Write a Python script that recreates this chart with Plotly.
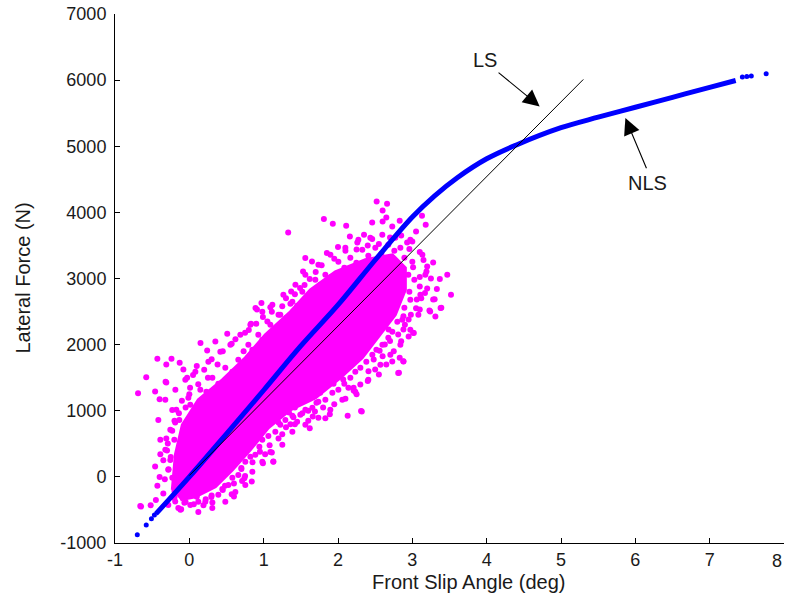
import plotly.graph_objects as go

# ---------------- data ----------------
# measured data points (visible individual dots of the cloud)
meas_x = [1.33, 1.37, 2.52, 2.66, 2.60, 1.81, 1.93, 2.11, 2.46, 2.60, 2.65, 2.73, 2.83, 3.13, 3.18, 3.05,
          2.16, 2.35, 2.26, 2.46, 2.93, 2.96, 2.00, 1.85, 1.56, 1.65, 3.28, 3.37, 3.47, 3.19, 3.10, 3.33,
          3.01, 1.49, 1.53, 1.62, 3.10, 3.17, 3.52, 3.31, 3.24, 3.38, 3.30, 3.02, 2.95, 2.81, 2.88, 2.73,
          2.31, 2.13, 1.89, 1.83, 1.62, 1.13, 0.84, 0.74, 0.60, -0.12, -0.19, -0.65, -0.69, -0.58, -0.43,
          -0.24, -0.13, -0.40, -0.46, -0.31, 0.15, 0.35, 0.51, 0.89, 0.97, 1.09, -0.31, -0.32, 0.24, 0.57,
          0.73, 0.83, 0.90, 0.91, 1.11, 1.25, 1.36, 0.99, 0.75, -0.08, -0.03, 0.01, 0.10, 3.39, 3.23, 3.10,
          3.06, 3.28, 3.01, 2.88, 2.81, 2.83, 2.88, 2.82, 2.60, 2.50, 2.48, 2.41, 2.70, 2.68, 2.95, 2.88,
          2.30, 2.21, 2.14, 2.21, 2.07, 1.94, 1.76, 1.71, 1.58, 1.47, 2.56, 2.63, 2.32, 1.69, 1.66, 1.60,
          1.52, 1.45, 1.42, 1.42, -0.66, -0.52, -0.43, -0.46, -0.39, -0.29, -0.31, -0.23, -0.19, -0.14,
          -0.23, -0.33, -0.28, -0.20, -0.11, 0.06, 0.22, 0.19, 0.31, 0.57, 0.48, 0.71, 0.75, 0.99, 1.13,
          1.02, 1.11, 1.25, 1.20, 1.34, 1.36, 1.15,
          0.30, 0.45, 0.62, 0.20, 0.05, 0.38, 0.80, 1.05, 1.20, 1.30, 1.42, 1.55, 1.70, 1.78, 1.95, 2.10,
          2.25, 2.40, 2.55, 2.70, 2.85, 3.00, 3.10, 3.15, 3.20, 3.25, 3.20, 3.12, 3.05, 2.98, 2.90, 2.85,
          2.75, 2.65, 2.55, 2.40, 2.25, 2.10, 1.95, 1.80, 1.60, 1.40, 1.30, 1.20, 1.08, 0.95, 0.85, 0.70,
          0.60, 0.45, 0.30, 0.10, -0.05, -0.20, -0.35, -0.45, -0.40, -0.35, -0.30, -0.25, -0.20, -0.10,
          0.00, 0.12, 0.25, -0.05,
          -0.283, -0.323, -0.256, -0.175, -0.013, 0.148, 0.310, 0.484, 0.659, 0.794, 0.928, 1.090, 1.224,
          1.386, 1.520, 1.695, 1.830, 2.005, 2.166, 2.327, 2.502, 2.677, 2.839, 3.000, 3.027, 2.973, 2.865,
          2.731, 2.597, 2.462, 2.301, 2.166, 2.005, 1.830, 1.655, 1.493, 1.292, 1.157, 0.982, 0.888, 0.753,
          0.659, 0.525, 0.390, 0.215, 0.013, -0.148, -0.283,
          -0.229, -0.256, -0.202, -0.135, 0.013, 0.229, 0.390, 0.579, 0.727, 0.848, 0.982, 1.157, 1.305,
          1.453, 1.601, 1.763, 1.911, 2.085, 2.247, 2.408, 2.583, 2.758, 2.893, 2.946, 2.960, 2.893, 2.798,
          2.677, 2.516, 2.381, 2.233, 2.085, 1.924, 1.736, 1.561, 1.386, 1.224, 1.063, 0.942, 0.821, 0.700,
          0.579, 0.444, 0.296, 0.121, -0.067, -0.202,
          -0.390, -0.417, -0.323, -0.188, -0.054, 0.081, 0.256, 0.417, 0.552, 0.686, 0.821, 0.982, 1.117,
          1.265, 1.427, 1.561, 1.736, 1.898, 2.099, 2.274, 2.435, 2.596, 2.771, 2.973, 3.135, 3.175, 3.108,
          3.081, 2.973, 2.839, 2.704, 2.570, 2.408, 2.233, 2.058, 1.897, 1.736, 1.561, 1.386, 1.251, 1.090,
          0.982, 0.848, 0.753, 0.619, 0.484, 0.309, 0.121]
meas_y = [3696, 2803, 4165, 4130, 4029, 3898, 3827, 3797, 3847, 3862, 3923, 3787, 3873, 3949, 3812, 3711,
          3635, 3661, 3545, 3596, 3545, 3445, 3475, 3384, 3309, 3258, 3242, 2991, 3056, 3107, 3021, 2840,
          3172, 2855, 3106, 2991, 2879, 2779, 2753, 2425, 2501, 2552, 2688, 2174, 2123, 1569, 1744, 1744,
          998, 923, 948, 888, 737, 231, -71, -20, -298, -499, -373, -449, 1266, 1508, 1785,
          1785, 1725, 1175, 1291, 1427, 2023, 2047, 2163, 2552, 2628, 2567, 1699, 1437, 1911, 2012,
          1901, 2315, 2315, 2531, 2496, 2582, 2617, 2416, 2179, 1624, 1498, 1346, 1675, 2557, 2516, 2531,
          2682, 2682, 2179, 2229, 2153, 1800, 1750, 1573, 1825, 1624, 1775, 1599, 2053, 2229, 2380, 2431,
          1397, 1346, 1346, 1306, 1472, 1407, 1271, 1120, 1195, 1372, 1906, 2002, 988, 988, 912, 847,
          963, 832, 797, 1049, -439, -428, -136, 156, 343, 504, 579, 696, 822, 963,
          1013, -35, 116, -212, -489, -413, -338, -428, -388, -262, -136, -61, 15, 207, 227,
          343, 368, 646, 822, 973, 797, 973,
          1780, 1900, 2080, 1620, 1540, 1700, 2220, 2350, 2450, 2700, 2760, 2900, 3100, 3200, 3300, 3420,
          3440, 3500, 3520, 3620, 3650, 3560, 3400, 3280, 3180, 3000, 2850, 2700, 2550, 2450, 2300, 2050,
          1900, 1700, 1550, 1450, 1250, 1180, 1100, 1050, 1000, 900, 750, 580, 480, 380, 220, 120,
          -100, -200, -280, -300, -380, -300, -250, -350, 0, 250, 400, 300, 850, 1150,
          1250, 1400, 1500, 1050,
          106, 409, 711, 1014, 1195, 1316, 1498, 1649, 1770, 1997, 2148, 2300, 2451,
          2648, 2799, 2981, 3056, 3253, 3314, 3435, 3465, 3510, 3465, 3253, 2981, 2678, 2375,
          2194, 1997, 1846, 1649, 1498, 1316, 1165, 1044, 938, 862, 681, 560, 333, 227,
          30, -121, -272, -378, -424, -469, -424,
          -15, 257, 560, 862, 1089, 1286, 1407, 1589, 1725, 1922, 2073, 2224, 2406,
          2587, 2739, 2905, 3026, 3162, 3238, 3344, 3374, 3419, 3314, 3056, 2799, 2557, 2345,
          2103, 1922, 1740, 1589, 1407, 1271, 1135, 1014, 923, 787, 620, 454, 303, 136,
          -15, -182, -303, -378, -393, -318,
          560, 862, 1165, 1316, 1468, 1589, 1740, 1891, 1997, 2148, 2300, 2496, 2602,
          2754, 2905, 3056, 3208, 3359, 3465, 3586, 3616, 3661, 3616, 3586, 3359, 3056, 2754,
          2451, 2224, 1997, 1846, 1695, 1468, 1286, 1165, 1014, 893, 787, 681, 484, 378,
          227, 76, -121, -227, -378, -469, -530]

# outline of the saturated core of the data cloud
core_x = [-0.229, -0.188, -0.094, 0.121, 0.444, 0.753, 1.022, 1.359, 1.628, 1.964, 2.368, 2.731,
          2.906, 2.906, 2.771, 2.570, 2.327, 2.031, 1.695, 1.359, 1.063, 0.821, 0.579, 0.350, 0.081, -0.121]
core_y = [-197, 333, 787, 1165, 1468, 1800, 2148, 2496, 2829, 3102, 3283, 3359,
          3162, 2829, 2451, 2148, 1800, 1498, 1195, 1014, 741, 409, 106, -151, -303, -348]

# nonlinear least squares fit (blue), continuous part
nls_x = [-0.45, 0.0, 0.5, 1.0, 1.5, 2.0, 2.5, 3.0, 3.3, 3.6, 4.0, 4.4, 5.0, 5.5, 6.0, 6.5, 7.0, 7.35]
nls_y = [-560, 0, 650, 1310, 1980, 2600, 3280, 3930, 4250, 4520, 4810, 5020, 5280, 5440, 5590, 5740, 5890, 5995]
# isolated blue points at both ends of the fit
nls_dot_x = [-0.70, -0.58, -0.51, -0.47, 7.44, 7.50, 7.56, 7.76]
nls_dot_y = [-877, -726, -635, -575, 6047, 6055, 6062, 6097]

# linear least squares fit (black)
ls_x = [0.0, 5.30]
ls_y = [20, 6010]

x_ticks = [-1, 0, 1, 2, 3, 4, 5, 6, 7]
x_labels = ["-1", "0", "1", "2", "3", "4", "5", "6", "7"]
y_ticks = [-1000, 0, 1000, 2000, 3000, 4000, 5000, 6000, 7000]
y_labels = ["-1000", "0", "1000", "2000", "3000", "4000", "5000", "6000", "7000"]

MAG = "#FF00FF"
BLUE = "#0000FF"
FONT = "Liberation Sans, Arial, sans-serif"
TXT = "#1a1a1a"

fig = go.Figure()
fig.add_trace(go.Scatter(x=core_x, y=core_y, mode="lines", fill="toself",
                         fillcolor=MAG, line=dict(color=MAG, width=3),
                         hoverinfo="skip", showlegend=False))
fig.add_trace(go.Scatter(x=meas_x, y=meas_y, mode="markers",
                         marker=dict(color=MAG, size=6, line=dict(width=0)), showlegend=False))
fig.add_trace(go.Scatter(x=nls_x, y=nls_y, mode="lines",
                         line=dict(color=BLUE, width=5, shape="spline"), showlegend=False))
fig.add_trace(go.Scatter(x=nls_dot_x, y=nls_dot_y, mode="markers",
                         marker=dict(color=BLUE, size=5, line=dict(width=0)), showlegend=False))
fig.add_trace(go.Scatter(x=ls_x, y=ls_y, mode="lines",
                         line=dict(color="black", width=1), showlegend=False))

# annotations
fig.add_annotation(x=3.98, y=6309, text="LS", showarrow=False,
                   font=dict(family=FONT, size=20, color=TXT))
fig.add_annotation(x=4.713, y=5603, ax=4.14, ay=6132, axref="x", ayref="y", text="",
                   showarrow=True, arrowhead=2, arrowsize=3, arrowwidth=1.1, arrowcolor="black")
fig.add_annotation(x=6.16, y=4441, text="NLS", showarrow=False,
                   font=dict(family=FONT, size=20, color=TXT))
fig.add_annotation(x=5.866, y=5427, ax=6.158, ay=4645, axref="x", ayref="y", text="",
                   showarrow=True, arrowhead=2, arrowsize=3, arrowwidth=1.1, arrowcolor="black")

# last x tick label, kept just inside the right edge
fig.add_annotation(x=1.0, xref="paper", xanchor="right", y=-0.0345, yref="paper", yanchor="middle",
                   text="8", showarrow=False, font=dict(family=FONT, size=18, color=TXT))

# axis titles
fig.add_annotation(xref="paper", yref="paper", x=0.528, y=-0.074, yanchor="middle",
                   text="Front Slip Angle (deg)", showarrow=False,
                   font=dict(family=FONT, size=20, color=TXT))
fig.add_annotation(xref="paper", yref="paper", x=-0.139, y=0.5, xanchor="center",
                   text="Lateral Force (N)", showarrow=False, textangle=-90,
                   font=dict(family=FONT, size=20, color=TXT))

fig.update_layout(
    width=786, height=603,
    margin=dict(l=115, r=2, t=14, b=60),
    paper_bgcolor="white", plot_bgcolor="white",
    font=dict(family=FONT, size=18, color=TXT),
)
fig.update_xaxes(range=[-1, 8], tickvals=x_ticks, ticktext=x_labels, showgrid=False, zeroline=False,
                 showline=True, linecolor="black", linewidth=1,
                 ticks="inside", ticklen=5, tickcolor="black")
fig.update_yaxes(range=[-1000, 7000], tickvals=y_ticks, ticktext=y_labels, showgrid=False,
                 zeroline=False, showline=True, linecolor="black", linewidth=1,
                 ticks="inside", ticklen=5, tickcolor="black", ticklabelstandoff=4)

fig.write_html("out.html")
